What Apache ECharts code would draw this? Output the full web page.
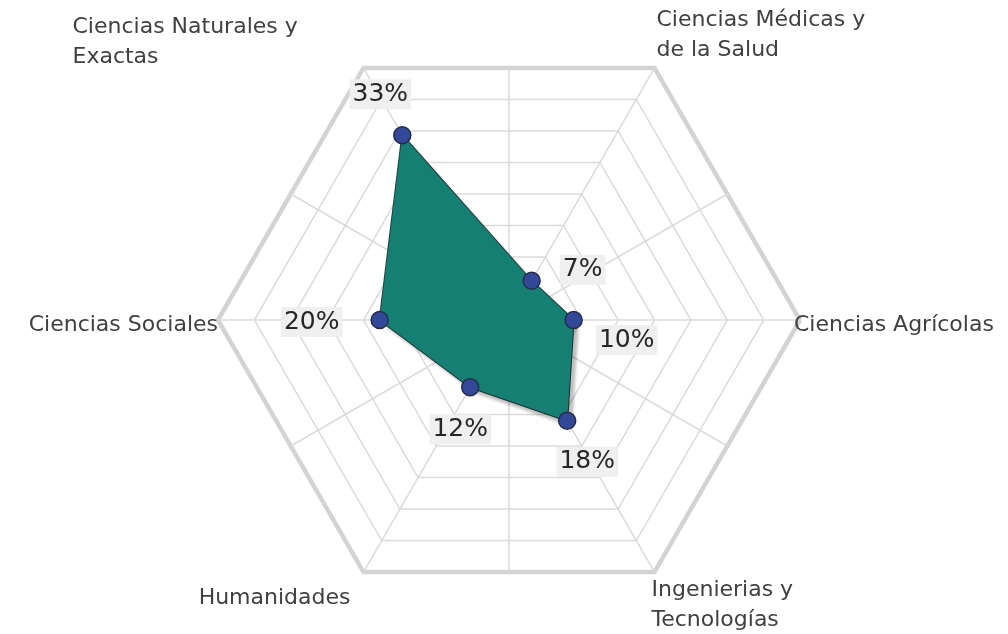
<!DOCTYPE html>
<html>
<head>
<meta charset="utf-8">
<title>Radar áreas de conocimiento</title>
<script src="https://cdn.jsdelivr.net/npm/echarts@6/dist/echarts.min.js"></script>
<style>
  html, body { margin: 0; padding: 0; background: #fff; }
  #chart { width: 1008px; height: 634px; }
</style>
</head>
<body>
<div id="chart"></div>
<script>
// datos (orden antihorario desde la derecha)
const areas = [
  'Ciencias Agrícolas',
  'Ciencias Médicas y\nde la Salud',
  'Ciencias Naturales y\nExactas',
  'Ciencias Sociales',
  'Humanidades',
  'Ingenierias y\nTecnologías'
];
const porcentajes = [10, 7, 33, 20, 12, 18];
const maxEje = 45;

// desplazamiento de las etiquetas de % respecto al punto
const offsetEtiquetas = {
  '10%': [53, 20],
  '7%': [51, -11],
  '33%': [-22, -41],
  '20%': [-68, 2],
  '12%': [-10, 42],
  '18%': [20, 41]
};

const fuente = '"DejaVu Sans", sans-serif';
const centro = [509, 320];
const radio = 291;
const gris = '#dadada';

// estilo base de los nombres de eje
const txt = { color: '#404040', fontSize: 22, fontFamily: fuente, lineHeight: 30 };
function st(extra) { return Object.assign({}, txt, extra); }

// cada nombre con su ajuste de posición (espaciadores / rellenos)
function nombreEje(name, i) {
  const l = name.split('\n');
  switch (i) {
    case 0: return '{agr|' + l[0] + '}';
    case 1: return '{med|' + l[0] + '}\n{med|' + l[1] + '}\n{sp76| }';
    case 2: return '{nat|' + l[0] + '}\n{nat|' + l[1] + '}\n{sp62| }';
    case 3: return '{soc|' + l[0] + '}';
    case 4: return '{sp62| }\n{hum|' + l[0] + '}';
    default: return '{sp76| }\n{ing|' + l[0] + '}\n{ing|' + l[1] + '}';
  }
}

const chart = echarts.init(document.getElementById('chart'));

chart.setOption({
  backgroundColor: '#ffffff',
  animation: false,
  radar: [
    {
      // radar principal: anillos, ejes y nombres
      center: centro,
      radius: radio,
      startAngle: 0,
      shape: 'polygon',
      splitNumber: 8,
      indicator: areas.map(function (n) { return { name: n, max: maxEje, min: 0 }; }),
      axisName: {
        color: '#404040',
        fontSize: 22,
        fontFamily: fuente,
        lineHeight: 30,
        formatter: function (name) { return nombreEje(name, areas.indexOf(name)); },
        rich: {
          agr: st({ padding: [10, 0, 0, 0] }),
          med: st({ padding: [0, 0, 0, 5] }),
          nat: st({ width: 294, align: 'left' }),
          soc: st({ padding: [10, 6, 0, 0] }),
          hum: st({ padding: [0, 16, 0, 0] }),
          ing: st({}),
          sp62: { fontSize: 2, lineHeight: 62 },
          sp76: { fontSize: 2, lineHeight: 76 }
        }
      },
      nameGap: -6,
      axisLine: { lineStyle: { color: gris, width: 1.5 } },
      splitLine: { lineStyle: { color: gris, width: 1.5 } },
      splitArea: { show: false },
      axisTick: { show: false },
      axisLabel: { show: false }
    },
    {
      // radios intermedios hacia el centro de cada lado
      center: centro,
      radius: radio * Math.cos(Math.PI / 6),
      startAngle: 30,
      shape: 'polygon',
      splitNumber: 1,
      indicator: areas.map(function () { return { name: '', max: maxEje, min: 0 }; }),
      axisName: { show: false },
      axisLine: { lineStyle: { color: gris, width: 1.5 } },
      splitLine: { show: false },
      splitArea: { show: false }
    },
    {
      // marco exterior grueso
      center: centro,
      radius: radio,
      startAngle: 0,
      shape: 'polygon',
      splitNumber: 1,
      indicator: areas.map(function () { return { name: '', max: maxEje, min: 0 }; }),
      axisName: { show: false },
      axisLine: { show: false },
      splitLine: { lineStyle: { color: '#d3d3d3', width: 4.5 } },
      splitArea: { show: false }
    }
  ],
  series: [
    {
      type: 'radar',
      radarIndex: 0,
      z: 5,
      symbol: 'circle',
      symbolSize: 17,
      data: [{ value: porcentajes, name: 'Áreas' }],
      areaStyle: {
        color: '#157f73',
        opacity: 1,
        shadowColor: 'rgba(0,0,0,0.25)',
        shadowBlur: 3,
        shadowOffsetX: 5,
        shadowOffsetY: 6
      },
      lineStyle: { color: '#25403c', width: 2 },
      itemStyle: {
        color: '#34489a',
        borderColor: '#262c45',
        borderWidth: 1.5
      },
      label: {
        show: true,
        position: 'inside',
        formatter: function (p) { return p.value + '%'; },
        color: '#262626',
        fontSize: 25,
        fontFamily: fuente,
        backgroundColor: '#efefef',
        padding: [3, 3, 2, 3]
      },
      labelLayout: function (params) {
        const o = offsetEtiquetas[params.text];
        return o ? { dx: o[0], dy: o[1] } : {};
      }
    }
  ]
});
</script>
</body>
</html>
